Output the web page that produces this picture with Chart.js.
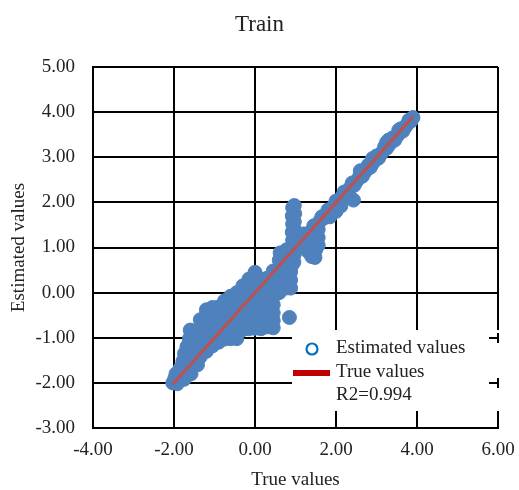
<!DOCTYPE html>
<html><head><meta charset="utf-8">
<script src="https://cdn.jsdelivr.net/npm/chart.js@4.4.0/dist/chart.umd.min.js"></script>
<style>html,body{margin:0;padding:0;background:#fff;}#wrap{width:519px;height:490px;}</style>
</head><body><div id="wrap"><canvas id="c" width="519" height="490"></canvas></div>
<script>
const chartTitle = 'Train';
const xAxisTitle = 'True values';
const yAxisTitle = 'Estimated values';
const legendLabels = ['Estimated values', 'True values', 'R2=0.994'];
const xTicks = [-4, -2, 0, 2, 4, 6];
const yTicks = [-3, -2, -1, 0, 1, 2, 3, 4, 5];

// "True values" reference line (x = y)
const trueLineX = [-2.03, 3.90];
const trueLineY = [-2.03, 3.90];

// Estimated values, [true, estimated], read off the picture region by region
const lowerTail = [
[-2.03,-2.00],[-1.98,-1.90],[-1.92,-2.02],[-1.95,-1.80],[-1.88,-1.95],[-1.85,-1.68],[-1.82,-1.85],[-1.78,-1.52],
[-1.75,-1.92],[-1.74,-1.35],[-1.70,-1.75],[-1.68,-1.20],[-1.66,-1.55],[-1.62,-1.02],[-1.60,-0.83],[-1.60,-1.38],
[-1.58,-1.80],[-1.55,-1.20],[-1.52,-1.62],[-1.48,-0.92],[-1.48,-1.08],[-1.45,-1.45],[-1.42,-1.60],[-1.40,-1.28]
];
const leftMass = [
[-1.35,-0.60],[-1.35,-0.76],[-1.35,-0.93],[-1.35,-1.10],[-1.35,-1.27],[-1.35,-1.42],
[-1.20,-0.38],[-1.20,-0.55],[-1.20,-0.72],[-1.20,-0.90],[-1.20,-1.07],[-1.20,-1.18],[-1.20,-1.30],
[-1.05,-0.33],[-1.05,-0.50],[-1.05,-0.67],[-1.05,-0.85],[-1.05,-1.02],[-1.05,-1.18],
[-0.90,-0.32],[-0.90,-0.50],[-0.90,-0.68],[-0.90,-0.86],[-0.90,-1.00],[-0.90,-1.10],
[-0.75,-0.18],[-0.75,-0.36],[-0.75,-0.54],[-0.75,-0.72],[-0.75,-0.90],[-0.75,-1.03],
[-0.60,-0.08],[-0.60,-0.25],[-0.60,-0.42],[-0.60,-0.60],[-0.60,-0.78],[-0.60,-0.94],[-0.60,-1.02]
];
const centerMass = [
[-0.45,0.00],[-0.45,-0.18],[-0.45,-0.36],[-0.45,-0.54],[-0.45,-0.72],[-0.45,-0.88],[-0.45,-1.02],
[-0.30,0.15],[-0.30,-0.03],[-0.30,-0.21],[-0.30,-0.39],[-0.30,-0.57],[-0.30,-0.72],[-0.30,-0.82],
[-0.15,0.30],[-0.15,0.12],[-0.15,-0.06],[-0.15,-0.24],[-0.15,-0.42],[-0.15,-0.60],[-0.15,-0.72],[-0.15,-0.80],
[0.00,0.45],[0.00,0.27],[0.00,0.09],[0.00,-0.09],[0.00,-0.27],[0.00,-0.45],[0.00,-0.63],[0.00,-0.79],
[0.15,0.30],[0.15,0.15],[0.15,-0.01],[0.15,-0.19],[0.15,-0.37],[0.15,-0.55],[0.15,-0.70],[0.15,-0.80],
[0.30,0.32],[0.30,0.12],[0.30,-0.06],[0.30,-0.24],[0.30,-0.42],[0.30,-0.60],[0.30,-0.76],
[0.45,0.48],[0.45,0.27],[0.45,0.09],[0.45,-0.09],[0.45,-0.27],[0.45,-0.45],[0.45,-0.62],[0.45,-0.78]
];
const rightMid = [
[0.60,0.00],[0.60,0.18],[0.60,0.36],[0.60,0.54],[0.60,0.72],[0.62,0.88],
[0.75,0.10],[0.75,0.28],[0.75,0.46],[0.75,0.64],[0.75,0.80],[0.78,0.95],
[0.85,-0.55]
];
const column = [
[0.88,0.10],[0.88,0.28],[0.88,0.46],[0.92,0.62],[0.93,0.80],[0.92,0.98],[0.93,1.16],[0.92,1.34],[0.93,1.52],
[0.92,1.70],[0.93,1.88],[0.97,1.93],[0.98,1.75],[0.97,1.57],[0.98,1.39],[0.97,1.21],[0.98,1.03],[0.97,0.85],[0.96,0.68]
];
const rightBlob = [
[1.20,1.15],[1.20,1.30],[1.30,0.92],[1.30,1.08],[1.30,1.24],[1.40,0.80],[1.40,0.98],[1.40,1.15],[1.40,1.32],
[1.48,0.78],[1.50,0.95],[1.50,1.12],[1.50,1.30],[1.50,1.46],[1.56,1.05],[1.56,1.22],[1.56,1.40],[1.60,1.58]
];
const upperBand = [
[1.05,1.08],[1.15,1.12],[1.25,1.28],[1.35,1.33],[1.45,1.48],[1.55,1.52],[1.65,1.68],[1.70,1.65],[1.80,1.83],[1.90,1.86],
[2.00,2.03],[2.10,2.06],[2.20,2.23],[2.30,2.26],[2.40,2.43],[2.50,2.46],[2.60,2.63],[2.70,2.66],[2.80,2.83],[2.90,2.86],
[3.00,3.03],[3.10,3.06],[3.20,3.23],[3.30,3.27],[3.40,3.43],[3.50,3.46],[3.60,3.63],[3.70,3.66],[3.80,3.82],[3.90,3.88],
[1.75,1.72],[1.85,1.78],[1.95,1.92],[2.05,1.98],[2.15,2.12],[2.25,2.18],[2.35,2.32],[2.45,2.38],[2.55,2.52],[2.65,2.58],
[2.75,2.72],[2.85,2.78],[2.95,2.92],[3.05,2.98],[3.15,3.12],[3.25,3.20],[3.35,3.32],[3.45,3.38],[3.55,3.52],[3.65,3.58],
[3.75,3.72],[3.85,3.80],
[3.25,3.33],[3.30,3.38],[2.60,2.70],[2.90,2.97],[3.55,3.60],
[2.43,2.05],[1.85,1.68],[2.00,1.80],[2.12,1.92]
];

const FONT = "'Liberation Serif', 'Times New Roman', serif";
const TEXT = '#222222';
const estimated = [...lowerTail, ...leftMass, ...centerMass, ...rightMid, ...column, ...rightBlob, ...upperBand]
  .map(([x, y]) => ({x, y}));
const trueLine = trueLineX.map((x, i) => ({x, y: trueLineY[i]}));

const overlay = {
  id: 'overlay',
  afterDraw(chart) {
    const ctx = chart.ctx, a = chart.chartArea, ys = chart.scales.y;
    const bx = a.left + 199, by = a.top + 263, bw = a.right + 2 - bx, bh = a.bottom - 17 - by;
    ctx.save();
    ctx.fillStyle = '#ffffff';
    ctx.fillRect(bx, by, bw, bh);
    // stubs of gridlines/border still visible at the right edge
    ctx.strokeStyle = '#000'; ctx.lineWidth = 2;
    [yTicks[2], yTicks[1]].forEach(v => {
      const p = Math.round(ys.getPixelForValue(v));
      ctx.beginPath(); ctx.moveTo(a.right - 9, p); ctx.lineTo(a.right, p); ctx.stroke();
      ctx.beginPath(); ctx.moveTo(a.right, p - 5); ctx.lineTo(a.right, p + 5); ctx.stroke();
    });
    // legend marker
    ctx.beginPath();
    ctx.arc(bx + 20, by + 19, 5.5, 0, Math.PI * 2);
    ctx.fillStyle = '#fff'; ctx.fill();
    ctx.strokeStyle = '#0070C0'; ctx.lineWidth = 2.2; ctx.stroke();
    ctx.beginPath();
    ctx.moveTo(bx + 1, by + 43); ctx.lineTo(bx + 38, by + 43);
    ctx.strokeStyle = '#C00000'; ctx.lineWidth = 6; ctx.stroke();
    ctx.fillStyle = TEXT;
    ctx.font = '19px ' + FONT;
    ctx.textAlign = 'left'; ctx.textBaseline = 'alphabetic';
    ctx.fillText(legendLabels[0], bx + 44, by + 23);
    ctx.fillText(legendLabels[1], bx + 44, by + 47);
    ctx.fillText(legendLabels[2], bx + 44, by + 69.5);
    ctx.restore();
  }
};

new Chart(document.getElementById('c'), {
  type: 'scatter',
  data: {
    datasets: [
      {
        label: legendLabels[1],
        data: trueLine,
        showLine: true,
        borderColor: 'rgb(192,80,77)',
        borderWidth: 3,
        pointRadius: 0,
        order: 0
      },
      {
        label: legendLabels[0],
        data: estimated,
        pointRadius: 7,
        pointBorderWidth: 1,
        backgroundColor: 'rgb(79,129,189)',
        borderColor: 'rgb(79,129,189)',
        order: 1
      }
    ]
  },
  options: {
    responsive: false,
    animation: false,
    devicePixelRatio: 1,
    layout: { padding: 0 },
    plugins: {
      legend: { display: false },
      tooltip: { enabled: false },
      title: {
        display: true, text: chartTitle, color: TEXT,
        font: { family: FONT, size: 23, weight: 'normal', lineHeight: 1.2 },
        padding: { top: 11, bottom: 28.4 }
      }
    },
    scales: {
      x: {
        type: 'linear', min: xTicks[0], max: xTicks[xTicks.length - 1],
        afterFit(s) { s.height = 62; s.paddingRight = 21; s.paddingLeft = 0; },
        ticks: {
          stepSize: xTicks[1] - xTicks[0], padding: 11, color: TEXT, maxRotation: 0,
          font: { family: FONT, size: 19 },
          callback: v => Number(v).toFixed(2)
        },
        grid: { color: '#000', lineWidth: 2, drawTicks: false },
        border: { display: true, color: '#000', width: 2 },
        title: { display: true, text: xAxisTitle, color: TEXT, padding: 0,
          font: { family: FONT, size: 19, lineHeight: 1 } }
      },
      y: {
        type: 'linear', min: yTicks[0], max: yTicks[yTicks.length - 1],
        afterFit(s) { s.width = 93; },
        ticks: {
          stepSize: yTicks[1] - yTicks[0], padding: 18, color: TEXT,
          font: { family: FONT, size: 19 },
          callback: v => Number(v).toFixed(2)
        },
        grid: { color: '#000', lineWidth: 2, drawTicks: false },
        border: { display: true, color: '#000', width: 2 },
        title: { display: true, text: yAxisTitle, color: TEXT, padding: { top: 10 },
          font: { family: FONT, size: 19, lineHeight: 1 } }
      }
    }
  },
  plugins: [overlay]
});
</script>
</body></html>
